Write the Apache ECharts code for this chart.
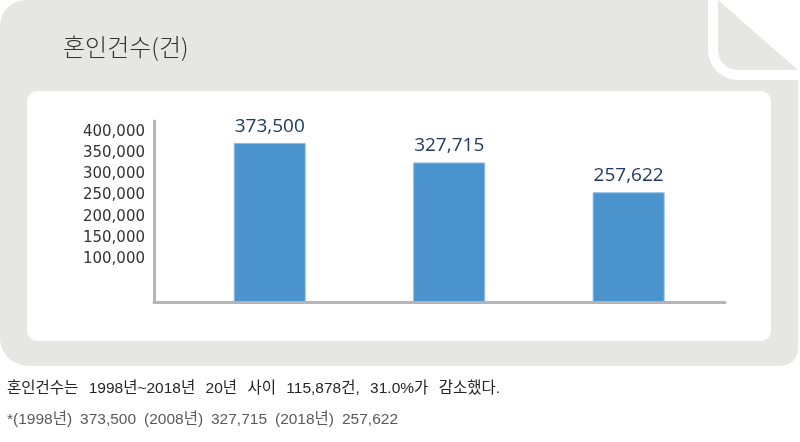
<!DOCTYPE html>
<html>
<head>
<meta charset="utf-8">
<script src="https://cdn.jsdelivr.net/npm/echarts@6/dist/echarts.min.js"></script>
<style>
  html, body { margin: 0; padding: 0; background: #fff; }
  #chart { width: 800px; height: 442px; }
</style>
</head>
<body>
<div id="chart"></div>
<script>
// data
const years = ['1998', '2008', '2018'];
const marriages = [373500, 327715, 257622];
const yMin = 0;
const yMax = 425000;
const yStep = 50000;
const yFirstLabel = 100000;

const titleText = '혼인건수(건)';
const noteText = '혼인건수는 1998년~2018년 20년 사이 115,878건, 31.0%가 감소했다.';
const sourceText = '*(1998년) 373,500 (2008년) 327,715 (2018년) 257,622';

const fmt = v => String(v).replace(/\B(?=(\d{3})+(?!\d))/g, ',');

// rounded bottom-left corner of the folded page triangle
const foldPoints = () => {
  const pts = [[718, 0], [798, 70], [738, 70]];
  const cx = 738, cy = 50, r = 20;
  for (let i = 1; i <= 12; i++) {
    const a = Math.PI / 2 + (i / 12) * (Math.PI / 2);
    pts.push([cx + r * Math.cos(a), cy + r * Math.sin(a)]);
  }
  return pts;
};

// footnote words are laid out one by one so the line keeps its original length
const FOOT_FONT = '"Liberation Sans", "Noto Sans CJK KR"';
const FOOT_SIZE = 15.5;
const measureCtx = document.createElement('canvas').getContext('2d');
const wordLine = (text, x, top, width, color) => {
  measureCtx.font = FOOT_SIZE + 'px ' + FOOT_FONT;
  const words = text.split(' ');
  const widths = words.map(w => measureCtx.measureText(w).width);
  const total = widths.reduce((a, b) => a + b, 0);
  const gap = Math.max(4, (width - total) / (words.length - 1));
  let cx = x;
  return words.map((w, i) => {
    const el = {
      type: 'text', x: cx, y: top,
      style: { text: w, fontFamily: FOOT_FONT, fontSize: FOOT_SIZE, fill: color }
    };
    cx += widths[i] + gap;
    return el;
  });
};

const chart = echarts.init(document.getElementById('chart'));

const option = {
  animation: false,
  graphic: [
    {
      type: 'rect', z: -10, silent: true,
      shape: { x: 0, y: 0, width: 798, height: 366, r: [26, 0, 17, 28] },
      style: { fill: '#e6e7e5' }
    },
    {
      type: 'rect', z: -9, silent: true,
      shape: { x: 708, y: -2, width: 95, height: 82, r: [0, 0, 0, 30] },
      style: { fill: '#ffffff' }
    },
    {
      type: 'polygon', z: -8, silent: true,
      shape: { points: foldPoints() },
      style: { fill: '#e6e7e5' }
    },
    {
      type: 'rect', z: -8, silent: true,
      shape: { x: 27, y: 91, width: 744, height: 250, r: 10 },
      style: { fill: '#ffffff' }
    },
    {
      type: 'text', left: 63, top: 35,
      style: {
        text: titleText,
        fontFamily: '"Noto Sans CJK KR"',
        fontSize: 24,
        fontWeight: 300,
        fill: '#333333'
      }
    },
    ...wordLine(noteText, 7, 381, 493, '#252525'),
    ...wordLine(sourceText, 7, 412, 391, '#5a5a5a')
  ],
  grid: {
    left: 154,
    right: 75,
    top: 121,
    bottom: 140
  },
  xAxis: {
    type: 'value',
    min: -0.645,
    max: 2.537,
    axisLine: { show: true, onZero: false, lineStyle: { color: '#b5b5b5', width: 3 } },
    axisTick: { show: false },
    axisLabel: { show: false },
    splitLine: { show: false }
  },
  yAxis: {
    type: 'value',
    min: yMin,
    max: yMax,
    interval: yStep,
    axisLine: { show: true, onZero: false, lineStyle: { color: '#b5b5b5', width: 3 } },
    axisTick: { show: false },
    splitLine: { show: false },
    axisLabel: {
      margin: 9,
      color: '#333333',
      fontFamily: '"DejaVu Sans"',
      fontSize: 15,
      formatter: v => (v >= yFirstLabel && v % yStep === 0 ? fmt(v) : '')
    }
  },
  series: [
    {
      type: 'bar',
      name: '혼인건수',
      barWidth: 72,
      data: marriages.map((v, i) => [i, v]),
      itemStyle: { color: '#4a93cc', borderColor: '#8fbbe2', borderWidth: 1 },
      label: {
        show: true,
        position: 'top',
        distance: 7,
        color: '#1f3963',
        fontFamily: '"Open Sans"',
        fontSize: 19,
        formatter: p => fmt(p.value[1])
      }
    }
  ]
};

chart.setOption(option);
</script>
</body>
</html>
